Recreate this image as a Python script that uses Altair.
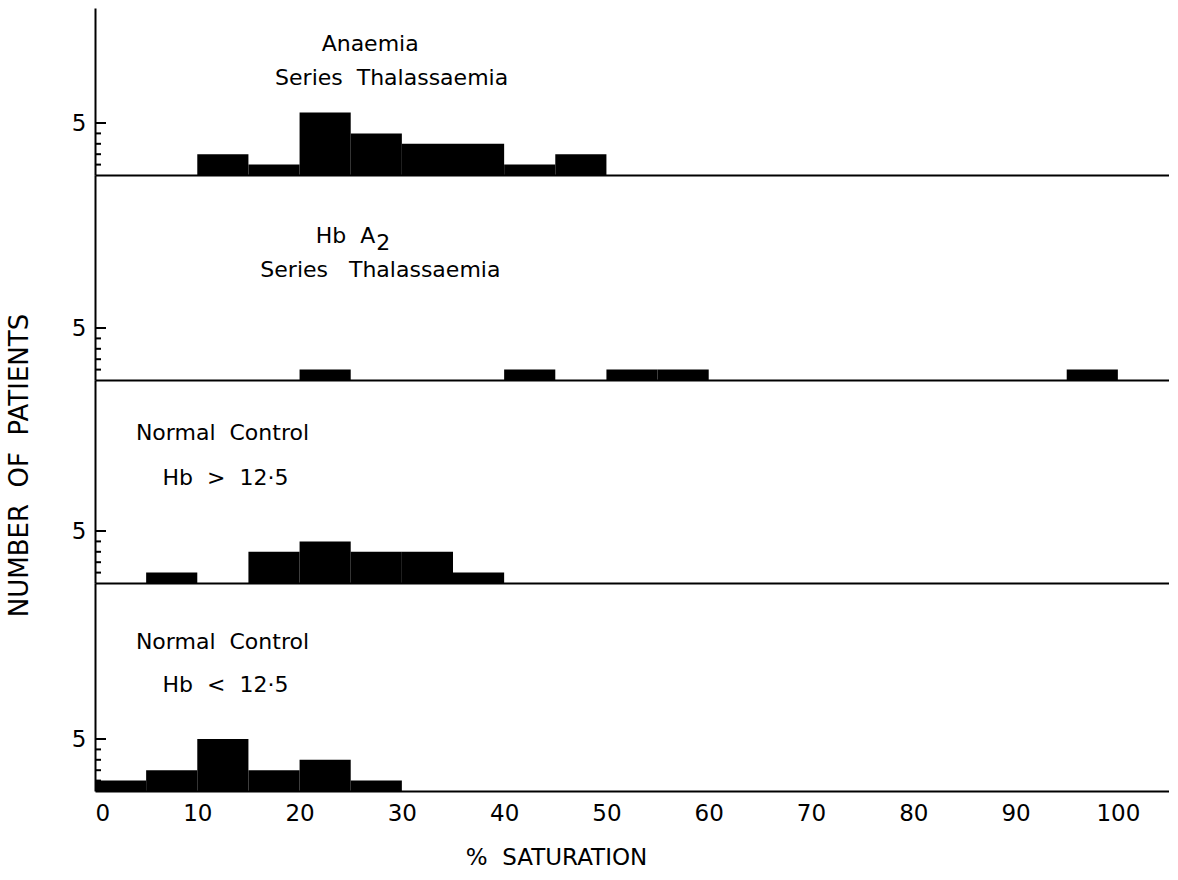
import altair as alt
import pandas as pd

FONT = "DejaVu Sans"
SP2 = "\u00a0\u00a0"  # wide gap between words, as in the hand lettering

# ---- data ----
bin_starts = list(range(0, 100, 5))
anaemia_thal = [0, 0, 2, 1, 6, 4, 3, 3, 1, 2, 0, 0, 0, 0, 0, 0, 0, 0, 0, 0]
hba2_thal = [0, 0, 0, 0, 1, 0, 0, 0, 1, 0, 1, 1, 0, 0, 0, 0, 0, 0, 0, 1]
normal_high = [0, 1, 0, 3, 4, 3, 3, 1, 0, 0, 0, 0, 0, 0, 0, 0, 0, 0, 0, 0]
normal_low = [1, 2, 5, 2, 3, 1, 0, 0, 0, 0, 0, 0, 0, 0, 0, 0, 0, 0, 0, 0]

x_ticks = list(range(0, 101, 10))

# (text, x in % units, y in patient units, align, dy)
panel_labels = [
    [("Anaemia", 26.9, 12.6, "center", 0),
     ("Series" + SP2 + "Thalassaemia", 29.0, 9.3, "center", 0)],
    [("Hb" + SP2 + "A", 27.4, 13.8, "right", 0),
     ("2", 27.5, 13.8, "left", 7),
     ("Series" + SP2 + "\u00a0Thalassaemia", 27.9, 10.6, "center", 0)],
    [("Normal" + SP2 + "Control", 4.0, 14.4, "left", 0),
     ("Hb" + SP2 + ">" + SP2 + "12\u00b75", 6.6, 10.1, "left", 0)],
    [("Normal" + SP2 + "Control", 4.0, 14.3, "left", 0),
     ("Hb" + SP2 + "<" + SP2 + "12\u00b75", 6.6, 10.2, "left", 0)],
]
panel_heights = [167, 205, 203, 208]
PX_PER_UNIT = 10.4


def panel(counts, labels, height, idx):
    bottom = idx == 3
    df = pd.DataFrame({
        "start": bin_starts,
        "end": [s + 5 for s in bin_starts],
        "count": counts,
    })
    df = df[df["count"] > 0]
    xscale = alt.Scale(domain=[0, 105], nice=False, zero=False)
    yscale = alt.Scale(domain=[0, height / PX_PER_UNIT], nice=False, zero=True)

    if bottom:
        xaxis = alt.Axis(values=x_ticks, ticks=False, grid=False,
                         labelFont=FONT, labelFontSize=23, labelColor="black",
                         labelPadding=11, domainColor="black", domainWidth=2,
                         title="%" + SP2 + "SATURATION", titleFont=FONT,
                         titleFontSize=23, titleFontWeight="normal",
                         titleColor="black", titleX=461, titleY=66,
                         titleBaseline="middle")
    else:
        xaxis = alt.Axis(labels=False, ticks=False, grid=False, title=None,
                         domainColor="black", domainWidth=2)

    if idx == 2:
        yaxis = alt.Axis(values=[5], ticks=False, grid=False,
                         labelFont=FONT, labelFontSize=23, labelColor="black",
                         labelPadding=9, domainColor="black", domainWidth=2,
                         title="NUMBER" + SP2 + "OF" + SP2 + "PATIENTS",
                         titleFont=FONT, titleFontSize=26,
                         titleFontWeight="normal", titleColor="black",
                         titleAngle=270, titleX=-76, titleY=85,
                         titleAlign="center", titleBaseline="middle")
    else:
        yaxis = alt.Axis(values=[5], ticks=False, grid=False,
                         labelFont=FONT, labelFontSize=23, labelColor="black",
                         labelPadding=9, domainColor="black", domainWidth=2,
                         title=None)

    bars = alt.Chart(df).mark_rect(color="black").encode(
        x=alt.X("start:Q", scale=xscale, axis=xaxis),
        x2="end:Q",
        y=alt.Y("count:Q", scale=yscale, axis=yaxis),
        y2=alt.datum(0),
    )

    minor = alt.Chart(pd.DataFrame({"count": [1, 2, 3, 4]})).mark_rule(
        color="black", strokeWidth=2
    ).encode(x=alt.value(0), x2=alt.value(6), y="count:Q")
    major = alt.Chart(pd.DataFrame({"count": [5]})).mark_rule(
        color="black", strokeWidth=2
    ).encode(x=alt.value(0), x2=alt.value(11), y="count:Q")

    layers = [bars, minor, major]
    for (txt, xv, yv, al, dy) in labels:
        tdf = pd.DataFrame({"label": [txt], "start": [xv], "count": [yv]})
        layers.append(
            alt.Chart(tdf).mark_text(
                font=FONT, fontSize=22, color="black", align=al,
                baseline="middle", dy=dy
            ).encode(x="start:Q", y="count:Q", text="label:N")
        )

    return alt.layer(*layers).properties(width=1074, height=height)


panels = [
    panel(c, l, h, i)
    for i, (c, l, h) in enumerate(zip(
        [anaemia_thal, hba2_thal, normal_high, normal_low],
        panel_labels, panel_heights))
]

chart = alt.vconcat(*panels, spacing=0, bounds="flush").configure_view(
    stroke=None
).properties(
    padding={"left": 5, "top": 8, "right": 0, "bottom": 0},
    background="white",
)

chart.save("out.html", embed_options={"renderer": "svg", "actions": False})
